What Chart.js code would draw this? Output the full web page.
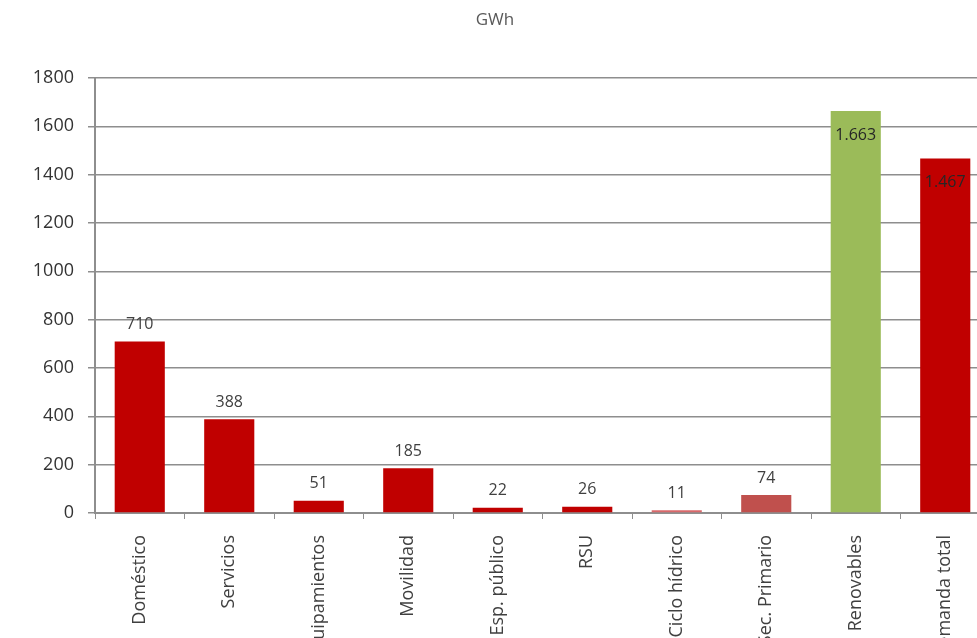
<!DOCTYPE html>
<html>
<head>
<meta charset="utf-8">
<script src="https://cdn.jsdelivr.net/npm/chart.js@4"></script>
<style>
  html, body { margin: 0; padding: 0; background: #fff; overflow: hidden; }
  #wrap { width: 995px; height: 660px; }
</style>
</head>
<body>
<div id="wrap"><canvas id="chart" width="995" height="660"></canvas></div>
<script>
// datos (GWh)
const categorias = ['Doméstico', 'Servicios', 'Equipamientos', 'Movilidad', 'Esp. público', 'RSU', 'Ciclo hídrico', 'Sec. Primario', 'Renovables', 'Demanda total'];
const valores = [710, 388, 51, 185, 22, 26, 11, 74, 1663, 1467];
const ticksY = [0, 200, 400, 600, 800, 1000, 1200, 1400, 1600, 1800];

const coloresBarras = ['#C00000', '#C00000', '#C00000', '#C00000', '#C00000', '#C00000', '#D9696B', '#C0504D', '#9BBB59', '#C00000'];
const fuente = "'Open Sans', 'Liberation Sans', sans-serif";
const gris = '#8e8e8e';

// formato con punto de miles
const fmt = v => String(v).replace(/\B(?=(\d{3})+(?!\d))/g, '.');

const etiquetas = {
  id: 'etiquetas',
  afterDatasetsDraw(chart) {
    const ctx = chart.ctx;
    const meta = chart.getDatasetMeta(0);
    ctx.save();
    ctx.font = '16px ' + fuente;
    ctx.textAlign = 'center';
    ctx.textBaseline = 'middle';
    meta.data.forEach((bar, i) => {
      const v = valores[i];
      if (v > 1000) {
        ctx.fillStyle = '#262626';
        ctx.fillText(fmt(v), bar.x, bar.y + 24);
      } else {
        ctx.fillStyle = '#404040';
        ctx.fillText(fmt(v), bar.x, bar.y - 17);
      }
    });
    ctx.restore();
  }
};

new Chart(document.getElementById('chart').getContext('2d'), {
  type: 'bar',
  data: {
    labels: categorias,
    datasets: [{ data: valores, backgroundColor: coloresBarras, borderWidth: 0, barPercentage: 0.56, categoryPercentage: 1 }]
  },
  options: {
    responsive: false,
    animation: false,
    layout: { padding: { left: 0, right: 5, top: 0, bottom: 0 } },
    plugins: {
      legend: { display: false },
      tooltip: { enabled: false },
      title: { display: true, text: 'GWh', color: '#595959', font: { family: fuente, size: 17, weight: 'normal' }, padding: { top: 10, bottom: 47.6 } }
    },
    scales: {
      y: {
        min: 0, max: 1800,
        afterBuildTicks: s => { s.ticks = ticksY.map(v => ({ value: v })); },
        afterFit: s => { s.width = 95; },
        grid: { color: gris, lineWidth: 1.5, tickLength: 7, tickColor: gris },
        border: { color: gris, width: 2 },
        ticks: { color: '#333333', padding: 14, font: { family: fuente, size: 18 }, callback: v => String(v) }
      },
      x: {
        afterFit: s => { s.height = 147; },
        grid: { offset: true, drawOnChartArea: false, tickLength: 6, color: gris, lineWidth: 1 },
        border: { color: gris, width: 2 },
        ticks: { color: '#404040', autoSkip: false, maxRotation: 90, minRotation: 90, padding: 16, font: { family: fuente, size: 18 } }
      }
    }
  },
  plugins: [etiquetas]
});
</script>
</body>
</html>
